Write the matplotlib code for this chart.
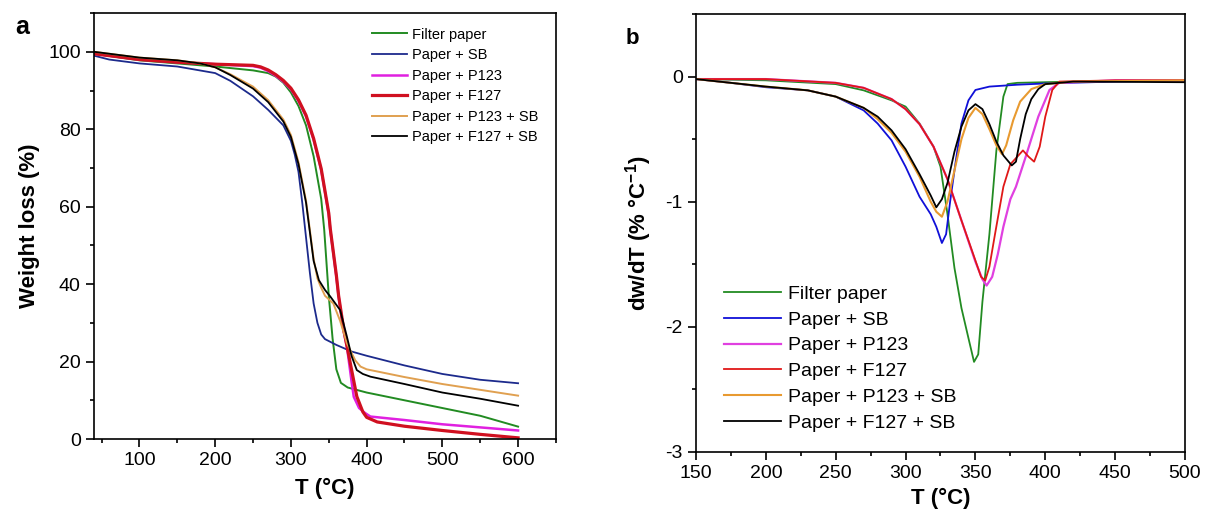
import matplotlib
matplotlib.use("Agg")
import matplotlib.pyplot as plt
from matplotlib.ticker import MultipleLocator

plt.rcParams['font.family'] = ['Liberation Sans', 'DejaVu Sans']
plt.rcParams['axes.unicode_minus'] = False
plt.rcParams['mathtext.fontset'] = 'custom'
plt.rcParams['mathtext.rm'] = 'Liberation Sans:bold'
plt.rcParams['mathtext.bf'] = 'Liberation Sans:bold'
plt.rcParams['mathtext.default'] = 'bf'

labels = ["Filter paper", "Paper + SB", "Paper + P123", "Paper + F127",
          "Paper + P123 + SB", "Paper + F127 + SB"]
colors_a = ["#228b22", "#1c2a8c", "#e020e0", "#d01020", "#e0a050", "#000000"]
colors_b = ["#228b22", "#1010d8", "#e040e0", "#e01818", "#e89a30", "#000000"]

# ---- Panel a: TGA (weight %) ----
T_green = [40, 100, 150, 200, 250, 270, 280, 290, 300, 310, 320, 330, 340, 344, 350, 355, 360, 366, 375, 400, 450, 500, 550, 600]
W_green = [99.5, 97.8, 97.0, 96.2, 95.2, 94.5, 93.6, 92.0, 89.5, 86.0, 81.0, 73.0, 62.0, 54.0, 37.0, 26.0, 18.0, 14.5, 13.3, 12.0, 10.0, 8.0, 6.0, 3.2]

T_blue = [40, 60, 100, 150, 200, 220, 250, 270, 290, 300, 305, 310, 315, 320, 325, 330, 335, 340, 345, 360, 380, 400, 450, 500, 550, 600]
W_blue = [99.0, 98.0, 97.0, 96.2, 94.5, 92.5, 88.5, 85.0, 81.0, 77.0, 73.5, 69.0, 61.0, 52.0, 43.0, 35.0, 30.0, 27.0, 25.8, 24.3, 22.6, 21.5, 19.0, 16.8, 15.3, 14.4]

T_p123 = [40, 100, 150, 200, 250, 260, 270, 280, 290, 300, 310, 320, 330, 340, 350, 352, 360, 363, 370, 374, 380, 383, 390, 398, 405, 450, 500, 550, 600]
W_p123 = [99.5, 98.0, 97.3, 96.8, 96.3, 95.9, 95.0, 93.8, 92.3, 90.3, 87.3, 83.3, 77.3, 69.5, 58.0, 54.0, 42.0, 36.8, 27.5, 23.8, 15.0, 10.9, 8.0, 6.7, 5.8, 4.9, 3.8, 3.0, 2.2]

T_f127 = [40, 100, 150, 200, 250, 260, 270, 280, 290, 300, 310, 320, 330, 340, 350, 352, 360, 363, 370, 374, 380, 387, 395, 400, 414, 450, 500, 550, 600]
W_f127 = [99.5, 98.0, 97.3, 96.8, 96.5, 96.1, 95.3, 94.1, 92.6, 90.6, 87.6, 83.6, 77.6, 69.8, 58.3, 54.3, 42.3, 37.0, 28.0, 24.0, 18.0, 11.0, 7.0, 5.6, 4.4, 3.3, 2.2, 1.2, 0.3]

T_p123sb = [40, 100, 150, 180, 200, 220, 250, 270, 290, 300, 310, 320, 325, 330, 335, 339, 345, 356, 365, 374, 385, 392, 400, 450, 500, 550, 600]
W_p123sb = [100.0, 98.5, 97.8, 97.0, 96.0, 94.2, 91.0, 87.5, 82.5, 78.5, 71.5, 61.5, 54.0, 46.5, 41.5, 39.5, 37.0, 35.0, 30.5, 24.7, 20.3, 18.7, 18.0, 16.0, 14.2, 12.7, 11.2]

T_f127sb = [40, 100, 150, 180, 200, 220, 250, 270, 290, 300, 310, 320, 325, 330, 337, 345, 352, 365, 374, 380, 387, 395, 405, 450, 500, 550, 600]
W_f127sb = [100.0, 98.5, 97.8, 97.0, 96.0, 94.0, 90.5, 87.0, 82.0, 78.0, 71.0, 61.0, 53.5, 46.0, 41.0, 38.5, 36.8, 33.3, 26.4, 21.5, 17.8, 16.8, 16.1, 14.2, 12.0, 10.4, 8.6]

# ---- Panel b: DTG (dw/dT) ----
D_green_T = [150, 200, 250, 270, 290, 300, 310, 320, 325, 330, 335, 340, 345, 349, 352, 355, 360, 365, 370, 373, 380, 400, 450, 500]
D_green = [-0.02, -0.03, -0.06, -0.11, -0.19, -0.24, -0.375, -0.56, -0.72, -1.1, -1.53, -1.85, -2.09, -2.28, -2.22, -1.8, -1.26, -0.59, -0.16, -0.06, -0.05, -0.045, -0.035, -0.03]

D_blue_T = [150, 175, 200, 230, 250, 270, 280, 290, 300, 310, 318, 322, 326, 329, 332, 336, 340, 345, 350, 360, 380, 400, 450, 500]
D_blue = [-0.02, -0.05, -0.085, -0.11, -0.16, -0.27, -0.375, -0.51, -0.72, -0.96, -1.1, -1.2, -1.33, -1.26, -0.99, -0.67, -0.375, -0.19, -0.107, -0.08, -0.065, -0.055, -0.04, -0.03]

D_p123_T = [150, 200, 250, 270, 290, 300, 310, 320, 330, 340, 350, 355, 358, 362, 366, 370, 375, 379, 386, 395, 403, 410, 450, 500]
D_p123 = [-0.02, -0.02, -0.05, -0.09, -0.18, -0.26, -0.38, -0.56, -0.82, -1.15, -1.48, -1.62, -1.67, -1.6, -1.42, -1.2, -0.98, -0.88, -0.64, -0.32, -0.107, -0.05, -0.03, -0.03]

D_f127_T = [150, 200, 250, 270, 290, 300, 310, 320, 330, 340, 350, 354, 357, 360, 364, 370, 375, 380, 384, 388, 392, 396, 400, 405, 410, 450, 500]
D_f127 = [-0.02, -0.02, -0.05, -0.09, -0.18, -0.26, -0.38, -0.56, -0.82, -1.15, -1.47, -1.6, -1.63, -1.52, -1.26, -0.88, -0.7, -0.64, -0.59, -0.64, -0.68, -0.56, -0.32, -0.107, -0.04, -0.03, -0.03]

D_p123sb_T = [150, 175, 200, 230, 250, 270, 280, 290, 300, 310, 318, 322, 326, 330, 335, 340, 345, 350, 355, 360, 365, 369, 372, 377, 382, 390, 400, 420, 500]
D_p123sb = [-0.02, -0.05, -0.08, -0.11, -0.16, -0.25, -0.34, -0.45, -0.6, -0.8, -1.0, -1.08, -1.12, -1.0, -0.75, -0.5, -0.33, -0.25, -0.3, -0.42, -0.55, -0.62, -0.55, -0.35, -0.2, -0.1, -0.06, -0.04, -0.03]

D_f127sb_T = [150, 175, 200, 230, 250, 270, 280, 290, 300, 310, 318, 322, 326, 330, 335, 340, 345, 350, 355, 360, 365, 370, 376, 379, 382, 386, 390, 395, 400, 420, 500]
D_f127sb = [-0.02, -0.05, -0.08, -0.11, -0.16, -0.25, -0.32, -0.43, -0.58, -0.78, -0.95, -1.045, -0.98, -0.85, -0.6, -0.4, -0.27, -0.22, -0.26, -0.38, -0.52, -0.63, -0.71, -0.68, -0.5, -0.3, -0.18, -0.1, -0.06, -0.04, -0.045]

fig = plt.figure(figsize=(12.07, 5.23), dpi=100)
axA = fig.add_axes([0.0779, 0.1606, 0.3827, 0.8144])
axB = fig.add_axes([0.5766, 0.1358, 0.4052, 0.8374])

seriesA = [(T_green, W_green), (T_blue, W_blue), (T_p123, W_p123), (T_f127, W_f127),
           (T_p123sb, W_p123sb), (T_f127sb, W_f127sb)]
lwA = [1.4, 1.3, 1.8, 2.3, 1.4, 1.3]
for (t, w), lab, c, lw in zip(seriesA, labels, colors_a, lwA):
    axA.plot(t, w, color=c, lw=lw, label=lab)

seriesB = [(D_green_T, D_green), (D_blue_T, D_blue), (D_p123_T, D_p123), (D_f127_T, D_f127),
           (D_p123sb_T, D_p123sb), (D_f127sb_T, D_f127sb)]
lwB = [1.3, 1.3, 1.6, 1.3, 1.5, 1.3]
for (t, d), lab, c, lw in zip(seriesB, labels, colors_b, lwB):
    axB.plot(t, d, color=c, lw=lw, label=lab)

axA.set_xlim(40, 650)
axA.set_ylim(0, 110)
axA.xaxis.set_major_locator(MultipleLocator(100))
axA.xaxis.set_minor_locator(MultipleLocator(50))
axA.yaxis.set_major_locator(MultipleLocator(20))
axA.yaxis.set_minor_locator(MultipleLocator(10))
axA.set_xticks([100, 200, 300, 400, 500, 600])
axA.set_xlabel("T (°C)", fontsize=16, fontweight='bold', labelpad=6)
axA.set_ylabel("Weight loss (%)", fontsize=16, fontweight='bold', labelpad=6)

axB.set_xlim(150, 500)
axB.set_ylim(-3, 0.5)
axB.xaxis.set_major_locator(MultipleLocator(50))
axB.xaxis.set_minor_locator(MultipleLocator(25))
axB.yaxis.set_major_locator(MultipleLocator(1))
axB.yaxis.set_minor_locator(MultipleLocator(0.5))
axB.set_xlabel("T (°C)", fontsize=16, fontweight='bold', labelpad=4)
axB.set_ylabel("dw/dT (% °C$^{-1}$)", fontsize=16, fontweight='bold', labelpad=8)

for ax in (axA, axB):
    ax.tick_params(which='major', direction='out', length=6, width=1.2, labelsize=14)
    ax.tick_params(which='minor', direction='out', length=3, width=1.2)
    for s in ax.spines.values():
        s.set_linewidth(1.2)

legA = axA.legend(loc='upper right', frameon=False, fontsize=10.5, handlelength=2.4,
                  handletextpad=0.4, labelspacing=0.45, borderaxespad=0.3,
                  bbox_to_anchor=(0.985, 0.99))
legB = axB.legend(loc='lower left', frameon=False, fontsize=14, handlelength=2.9,
                  handletextpad=0.4, labelspacing=0.42, borderaxespad=0.3,
                  bbox_to_anchor=(0.03, 0.015))

fig.text(0.013, 0.935, "a", fontsize=18, fontweight='bold')
fig.text(0.518, 0.915, "b", fontsize=16, fontweight='bold')

fig.savefig("out.png", dpi=100)
